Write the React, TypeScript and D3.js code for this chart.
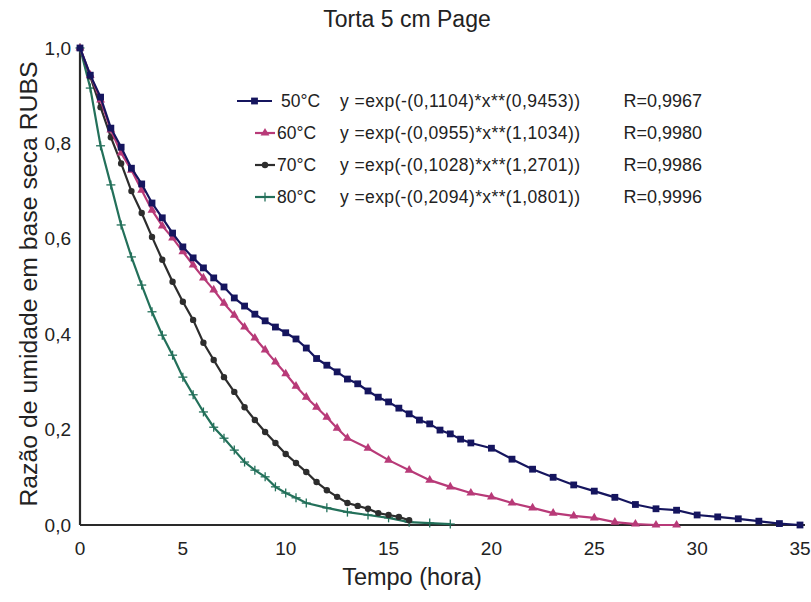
import React from "react";
import * as d3 from "d3";

const title = "Torta 5 cm Page";
const xLabel = "Tempo (hora)";
const yLabel = "Razão de umidade em base seca RUBS";
const xTicks = [0, 5, 10, 15, 20, 25, 30, 35];
const yTicks = [0, 0.2, 0.4, 0.6, 0.8, 1.0];

const t50 = [0,0.5,1,1.5,2,2.5,3,3.5,4,4.5,5,5.5,6,6.5,7,7.5,8,8.5,9,9.5,10,10.5,11,11.5,12,12.5,13,13.5,14,14.5,15,15.5,16,16.5,17,17.5,18,18.5,19,20,21,22,23,24,25,26,27,28,29,30,31,32,33,34,35];
const v50 = [1.0,0.943,0.897,0.832,0.792,0.748,0.715,0.675,0.644,0.612,0.583,0.560,0.539,0.518,0.499,0.476,0.459,0.442,0.428,0.415,0.403,0.390,0.371,0.349,0.335,0.321,0.306,0.296,0.281,0.268,0.258,0.245,0.233,0.220,0.212,0.199,0.191,0.180,0.172,0.161,0.138,0.117,0.100,0.084,0.071,0.058,0.043,0.034,0.031,0.021,0.017,0.013,0.008,0.003,0.0];

const t60 = [0,0.5,1,1.5,2,2.5,3,3.5,4,4.5,5,5.5,6,6.5,7,7.5,8,8.5,9,9.5,10,10.5,11,11.5,12,12.5,13,14,15,16,17,18,19,20,21,22,23,24,25,26,27,28,29];
const v60 = [1.0,0.943,0.891,0.828,0.780,0.744,0.702,0.660,0.627,0.602,0.573,0.545,0.518,0.493,0.465,0.440,0.415,0.392,0.367,0.342,0.317,0.291,0.268,0.247,0.226,0.203,0.182,0.161,0.136,0.115,0.094,0.080,0.067,0.059,0.046,0.036,0.025,0.019,0.015,0.006,0.002,0.0,0.0];

const t70 = [0,0.5,1,1.5,2,2.5,3,3.5,4,4.5,5,5.5,6,6.5,7,7.5,8,8.5,9,9.5,10,10.5,11,11.5,12,12.5,13,13.5,14,14.5,15,15.5,16];
const v70 = [1.0,0.94,0.876,0.813,0.758,0.700,0.654,0.604,0.556,0.510,0.468,0.430,0.382,0.346,0.310,0.279,0.247,0.220,0.195,0.172,0.149,0.130,0.111,0.090,0.073,0.059,0.046,0.040,0.034,0.025,0.021,0.017,0.010];

const t80 = [0,0.5,1,1.5,2,2.5,3,3.5,4,4.5,5,5.5,6,6.5,7,7.5,8,8.5,9,9.5,10,10.5,11,12,13,14,15,16,17,18];
const v80 = [1.0,0.916,0.795,0.713,0.629,0.562,0.503,0.447,0.398,0.356,0.310,0.273,0.237,0.205,0.182,0.157,0.132,0.115,0.101,0.080,0.067,0.057,0.046,0.036,0.027,0.021,0.015,0.006,0.004,0.002];

const seriesNames = ["50°C", "60°C", "70°C", "80°C"];
const formulas = [
  "y =exp(-(0,1104)*x**(0,9453))",
  "y =exp(-(0,0955)*x**(1,1034))",
  "y =exp(-(0,1028)*x**(1,2701))",
  "y =exp(-(0,2094)*x**(1,0801))",
];
const rValues = ["R=0,9967", "R=0,9980", "R=0,9986", "R=0,9996"];
const colors = ["#15155e", "#b83a78", "#2d2d2d", "#23705a"];
const markers = ["square", "triangle", "circle", "plus"];

const W = 811;
const H = 602;
const x = d3.scaleLinear().domain([0, 35]).range([80, 800]);
const y = d3.scaleLinear().domain([0, 1]).range([525, 48]);
const fmt = (v: number) => d3.format(".1f")(v).replace(".", ",");

function Marker({ kind, cx, cy, color }: { kind: string; cx: number; cy: number; color: string }) {
  if (kind === "square") return <rect x={cx - 3.4} y={cy - 3.4} width={6.8} height={6.8} fill={color} />;
  if (kind === "triangle")
    return <path d={d3.symbol(d3.symbolTriangle, 34)() || ""} transform={`translate(${cx},${cy})`} fill={color} />;
  if (kind === "circle") return <circle cx={cx} cy={cy} r={3.2} fill={color} />;
  return (
    <g stroke={color} strokeWidth={1.3}>
      <line x1={cx - 4.5} x2={cx + 4.5} y1={cy} y2={cy} />
      <line x1={cx} x2={cx} y1={cy - 4.5} y2={cy + 4.5} />
    </g>
  );
}

export default function App() {
  const data = [
    t50.map((t, i) => [t, v50[i]] as [number, number]),
    t60.map((t, i) => [t, v60[i]] as [number, number]),
    t70.map((t, i) => [t, v70[i]] as [number, number]),
    t80.map((t, i) => [t, v80[i]] as [number, number]),
  ];
  const line = d3
    .line<[number, number]>()
    .x((d) => x(d[0]))
    .y((d) => y(d[1]));
  const order = [3, 2, 1, 0];
  const legendY = [101, 133, 165, 197];
  const legendLine = [
    [237, 272],
    [255, 275],
    [255, 275],
    [255, 275],
  ];
  const textStart = [281, 277, 277, 277];
  const font = "'Liberation Sans', Arial, sans-serif";
  const ink = "#222";
  return (
    <svg width={W} height={H} style={{ position: "absolute", left: 0, top: 0, background: "#fff" }} fontFamily={font}>
      <rect width={W} height={H} fill="#fff" />
      <text x={407} y={27} textAnchor="middle" fontSize={23} fill={ink}>
        {title}
      </text>
      {/* axes */}
      <line x1={x(0)} x2={x(0)} y1={y(1)} y2={y(0)} stroke="#2a2a2a" strokeWidth={2.2} />
      <line x1={x(0)} x2={805} y1={y(0)} y2={y(0)} stroke="#2a2a2a" strokeWidth={2.2} />
      {yTicks.map((t) => (
        <text key={"y" + t} x={71} y={y(t) + 6.5} textAnchor="end" fontSize={19} fill={ink}>
          {fmt(t)}
        </text>
      ))}
      {xTicks.map((t) => (
        <text key={"x" + t} x={x(t)} y={555} textAnchor="middle" fontSize={19} fill={ink}>
          {t}
        </text>
      ))}
      <text x={412} y={585} textAnchor="middle" fontSize={23.5} fill={ink}>
        {xLabel}
      </text>
      <text transform={`translate(37,${284}) rotate(-90)`} textAnchor="middle" fontSize={24.8} fill={ink}>
        {yLabel}
      </text>
      {/* series */}
      {order.map((i) => (
        <g key={"s" + i}>
          <path d={line(data[i]) || ""} fill="none" stroke={colors[i]} strokeWidth={2.2} />
          {data[i].map((d, j) => (
            <Marker key={j} kind={markers[i]} cx={x(d[0])} cy={y(d[1])} color={colors[i]} />
          ))}
        </g>
      ))}
      {/* legend */}
      {seriesNames.map((n, i) => (
        <g key={"l" + i}>
          <line x1={legendLine[i][0]} x2={legendLine[i][1]} y1={legendY[i]} y2={legendY[i]} stroke={colors[i]} strokeWidth={2.2} />
          <Marker kind={markers[i]} cx={(legendLine[i][0] + legendLine[i][1]) / 2} cy={legendY[i]} color={colors[i]} />
          <text x={textStart[i]} y={legendY[i] + 6} fontSize={17.5} fill={ink}>
            {n}
          </text>
          <text x={340} y={legendY[i] + 6} fontSize={17.5} fill={ink} textLength={240} lengthAdjust="spacing">
            {formulas[i]}
          </text>
          <text x={702} y={legendY[i] + 6} textAnchor="end" fontSize={18} fill={ink}>
            {rValues[i]}
          </text>
        </g>
      ))}
    </svg>
  );
}
